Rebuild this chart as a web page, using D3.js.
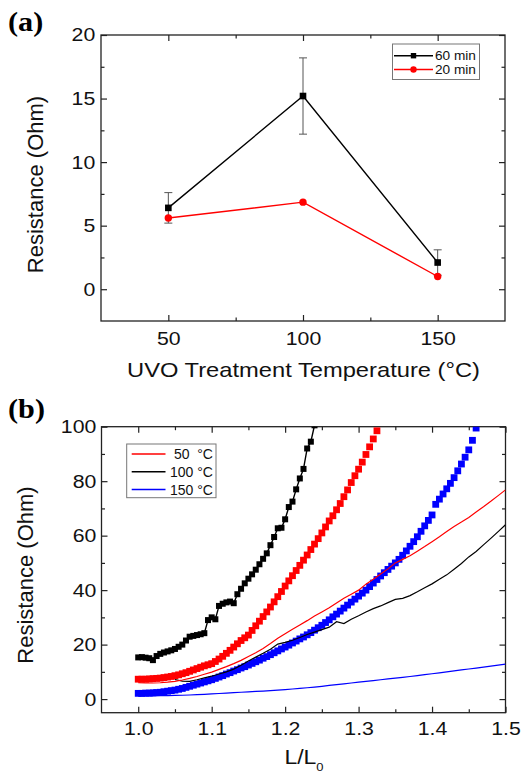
<!DOCTYPE html>
<meta charset="utf-8">
<title>Resistance vs UVO treatment temperature and strain</title>
<style>

body {
  margin: 0;
  background: #fff;
}

svg {
  font-family: "Liberation Sans", Arial, sans-serif;
}

.frame {
  fill: none;
  stroke: #222;
  stroke-width: 1.3px;
}

.axis path {
  display: none;
}

.axis line {
  stroke: #222;
  stroke-width: 1.2px;
}

.axis text {
  fill: #111;
  font-size: 18.5px;
}

.legend-box {
  fill: #fff;
  stroke: #777;
  stroke-width: 1px;
}

.tag {
  font-family: "Liberation Serif", "Times New Roman", serif;
  font-weight: bold;
  font-size: 27px;
}

</style>
<body>
<script src="https://d3js.org/d3.v7.min.js"></script>
<script>

// ---- panel (a) data ----
var treatTemps = [50, 100, 150];
var res60min = [6.4, 15.2, 2.1];
var err60min = [1.2, 3.0, 1.0];
var res20min = [5.6, 6.85, 1.0];

// ---- panel (b) data ----
// strain L/L0, fine sampling for the marker curves
var strainFine = [
  1.000, 1.005, 1.010, 1.015, 1.020, 1.025, 1.030, 1.035, 1.040, 1.045,
  1.050, 1.055, 1.060, 1.065, 1.070, 1.075, 1.080, 1.085, 1.090, 1.095,
  1.100, 1.105, 1.110, 1.115, 1.120, 1.125, 1.130, 1.135, 1.140, 1.145,
  1.150, 1.155, 1.160, 1.165, 1.170, 1.175, 1.180, 1.185, 1.190, 1.195,
  1.200, 1.205, 1.210, 1.215, 1.220, 1.225, 1.230, 1.235, 1.240, 1.245,
  1.250, 1.255, 1.260, 1.265, 1.270, 1.275, 1.280, 1.285, 1.290, 1.295,
  1.300, 1.305, 1.310, 1.315, 1.320, 1.325, 1.330, 1.335, 1.340, 1.345,
  1.350, 1.355, 1.360, 1.365, 1.370, 1.375, 1.380, 1.385, 1.390, 1.395,
  1.400, 1.405, 1.410, 1.415, 1.420, 1.425, 1.430, 1.435, 1.440, 1.445,
  1.450, 1.455, 1.460
];

// strain, coarse sampling for the thin lines
var strainCoarse = [
  1.00, 1.01, 1.02, 1.03, 1.04, 1.05, 1.06, 1.07, 1.08, 1.09,
  1.10, 1.11, 1.12, 1.13, 1.14, 1.15, 1.16, 1.17, 1.18, 1.19,
  1.20, 1.21, 1.22, 1.23, 1.24, 1.25, 1.26, 1.27, 1.28, 1.29,
  1.30, 1.31, 1.32, 1.33, 1.34, 1.35, 1.36, 1.37, 1.38, 1.39,
  1.40, 1.41, 1.42, 1.43, 1.44, 1.45, 1.46, 1.47, 1.48, 1.49,
  1.50
];

// square-marker curves (strainFine[0..n-1])
var sq100 = [
  15.3, 15.4, 15.2, 15.0, 14.3, 15.8, 16.6, 17.1, 17.5, 17.9,
  18.4, 19.2, 20.0, 21.5, 22.9, 23.2, 23.5, 23.8, 24.2, 29.0,
  30.0, 29.3, 34.2, 35.0, 35.5, 35.8, 35.2, 38.5, 40.5, 42.5,
  44.2, 45.8, 47.5, 49.5, 51.5, 53.5, 56.5, 59.5, 62.7, 62.9,
  66.0, 70.5, 72.5, 77.0, 81.0, 84.5, 92.0, 94.5, 100.5
];

var sq50 = [
  7.3, 7.3, 7.3, 7.4, 7.5, 7.6, 7.7, 7.9, 8.1, 8.3,
  8.6, 8.9, 9.3, 9.7, 10.2, 10.7, 11.2, 11.7, 12.2, 12.6,
  13.0, 13.8, 14.7, 15.7, 16.8, 17.9, 19.1, 20.3, 21.5, 22.5,
  23.5, 25.2, 26.9, 28.6, 30.3, 32.0, 33.8, 35.7, 37.6, 39.5,
  41.5, 43.4, 45.3, 47.2, 49.1, 51.0, 52.9, 54.9, 56.9, 58.9,
  61.0, 63.2, 65.4, 67.3, 69.5, 71.8, 74.3, 76.8, 79.5, 82.0,
  84.4, 87.0, 89.8, 92.6, 95.5, 98.5
];

var sq150 = [
  2.1, 2.1, 2.2, 2.2, 2.3, 2.4, 2.5, 2.7, 2.9, 3.1,
  3.3, 3.6, 3.9, 4.3, 4.7, 5.1, 5.5, 5.9, 6.3, 6.7,
  7.1, 7.6, 8.1, 8.6, 9.2, 9.7, 10.3, 10.8, 11.4, 11.9,
  12.5, 13.1, 13.7, 14.3, 15.0, 15.6, 16.3, 17.0, 17.7, 18.4,
  19.1, 19.8, 20.6, 21.3, 22.1, 22.8, 23.6, 24.4, 25.3, 26.2,
  27.1, 28.1, 29.1, 30.2, 31.2, 32.3, 33.4, 34.5, 35.6, 36.7,
  37.8, 38.9, 40.0, 41.3, 42.6, 43.9, 45.2, 46.4, 47.6, 48.8,
  50.0, 51.3, 52.8, 54.4, 56.1, 57.8, 59.6, 61.6, 63.6, 65.6,
  67.6, 71.5, 73.4, 75.3, 77.2, 79.2, 81.3, 83.8, 86.3, 88.8,
  91.5, 95.0, 99.5
];

// thin lines (strainCoarse)
var line50 = [
  6.0, 5.9, 5.9, 6.0, 6.2, 6.5, 7.0, 7.6, 8.3, 9.1,
  9.9, 10.9, 11.9, 13.0, 14.2, 15.6, 17.0, 18.6, 20.4, 22.3,
  24.0, 25.6, 27.2, 28.8, 30.5, 32.0, 33.5, 35.3, 37.0, 38.5,
  40.0, 42.2, 44.0, 45.9, 47.8, 50.0, 51.3, 52.6, 54.3, 56.0,
  57.8, 59.6, 61.5, 63.4, 65.0, 66.7, 68.7, 70.6, 72.6, 74.7,
  76.8
];

// starts at L/L0 = 1.05 (strainCoarse[5..])
var line100 = [
  7.2, 6.6, 6.5, 7.1, 7.8,
  8.4, 9.2, 10.0, 11.0, 12.4, 14.0, 15.4, 16.8, 18.3, 20.2,
  20.8, 21.6, 22.6, 23.7, 24.6, 25.5, 26.4, 28.4, 27.7, 29.3,
  30.6, 32.0, 33.2, 34.2, 35.4, 36.6, 37.0, 38.0, 39.4, 40.9,
  42.3, 44.0, 45.6, 47.7, 49.8, 52.2, 54.2, 56.6, 59.0, 61.5,
  64.0
];

var line150 = [
  1.2, 1.2, 1.2, 1.25, 1.3, 1.35, 1.4, 1.5, 1.6, 1.75,
  1.9, 2.05, 2.2, 2.35, 2.5, 2.65, 2.8, 2.95, 3.1, 3.3,
  3.5, 3.7, 3.9, 4.15, 4.4, 4.7, 5.0, 5.3, 5.6, 5.9,
  6.2, 6.5, 6.8, 7.1, 7.4, 7.7, 8.0, 8.3, 8.6, 8.95,
  9.3, 9.65, 10.0, 10.35, 10.7, 11.05, 11.4, 11.75, 12.1, 12.45,
  12.8
];

var width = 523, height = 773;

var svg = d3.select("body").append("svg")
    .attr("width", width)
    .attr("height", height);

svg.append("rect").attr("width", width).attr("height", height).attr("fill", "#fff");

var xa = d3.scaleLinear().domain([25, 175]).range([101, 505]),
    ya = d3.scaleLinear().domain([-2.5, 20]).range([321, 35]);

var xb = d3.scaleLinear().domain([0.95, 1.5]).range([101.5, 505.5]),
    yb = d3.scaleLinear().domain([-5, 100]).range([712.7, 426.7]);

// boxed frame with inward ticks on all four sides
function frame(x, y, opt) {
  var x0 = x.range()[0], x1 = x.range()[1],
      y0 = y.range()[1], y1 = y.range()[0];
  var g = svg.append("g");

  function put(axis, tx, ty) {
    return g.append("g").attr("class", "axis")
        .attr("transform", "translate(" + tx + "," + ty + ")")
        .call(axis);
  }

  put(d3.axisBottom(x).tickValues(opt.xMinor).tickSize(-3.5).tickFormat(""), 0, y1);
  put(d3.axisTop(x).tickValues(opt.xMinor).tickSize(-3.5).tickFormat(""), 0, y0);
  put(d3.axisLeft(y).tickValues(opt.yMinor).tickSize(-3.5).tickFormat(""), x0, 0);
  put(d3.axisRight(y).tickValues(opt.yMinor).tickSize(-3.5).tickFormat(""), x1, 0);

  put(d3.axisBottom(x).tickValues(opt.xMajor).tickSize(-6).tickPadding(opt.xPad).tickFormat(opt.xFmt), 0, y1)
    .selectAll("text").attr("transform", "scale(1.15,1)");
  put(d3.axisTop(x).tickValues(opt.xMajor).tickSize(-6).tickFormat(""), 0, y0);
  put(d3.axisLeft(y).tickValues(opt.yMajor).tickSize(-6).tickPadding(opt.yPad).tickFormat(opt.yFmt), x0, 0)
    .selectAll("text").attr("transform", "scale(1.15,1)");
  put(d3.axisRight(y).tickValues(opt.yMajor).tickSize(-6).tickFormat(""), x1, 0);

  g.append("rect").attr("class", "frame")
      .attr("x", x0).attr("y", y0)
      .attr("width", x1 - x0).attr("height", y1 - y0);
}

function label(txt, x, y, size, sx, rot) {
  return svg.append("text")
      .attr("transform", "translate(" + x + "," + y + ")" + (rot ? " rotate(" + rot + ")" : "") + " scale(" + sx + ",1)")
      .attr("text-anchor", "middle")
      .attr("font-size", size)
      .attr("fill", "#111")
      .text(txt);
}

// ================= panel (a) =================
frame(xa, ya, {
  xMajor: [50, 100, 150], xMinor: [75, 125],
  yMajor: [0, 5, 10, 15, 20], yMinor: [2.5, 7.5, 12.5, 17.5],
  xFmt: d3.format("d"), yFmt: d3.format("d"), xPad: 11, yPad: 5
});

var lineA = d3.line()
    .x(function(d, i) { return xa(treatTemps[i]); })
    .y(function(d) { return ya(d); });

// error bars for 60 min
var eb = svg.append("g").attr("stroke", "#555").attr("stroke-width", 1);
res60min.forEach(function(v, i) {
  var cx = xa(treatTemps[i]);
  eb.append("line").attr("x1", cx).attr("x2", cx)
      .attr("y1", ya(v - err60min[i])).attr("y2", ya(v + err60min[i]));
  [v - err60min[i], v + err60min[i]].forEach(function(e) {
    eb.append("line").attr("x1", cx - 4).attr("x2", cx + 4)
        .attr("y1", ya(e)).attr("y2", ya(e));
  });
});

svg.append("path").attr("d", lineA(res60min))
    .attr("fill", "none").attr("stroke", "#000").attr("stroke-width", 1.4);
svg.append("path").attr("d", lineA(res20min))
    .attr("fill", "none").attr("stroke", "#ff0000").attr("stroke-width", 1.4);

svg.selectAll(".sq60").data(res60min).enter().append("rect")
    .attr("x", function(d, i) { return xa(treatTemps[i]) - 3.3; })
    .attr("y", function(d) { return ya(d) - 3.3; })
    .attr("width", 6.6).attr("height", 6.6).attr("fill", "#000");
svg.selectAll(".ci20").data(res20min).enter().append("circle")
    .attr("cx", function(d, i) { return xa(treatTemps[i]); })
    .attr("cy", function(d) { return ya(d); })
    .attr("r", 3.7).attr("fill", "#ff0000");

// legend (a)
var legA = svg.append("g");
legA.append("rect").attr("class", "legend-box")
    .attr("x", 392.5).attr("y", 44).attr("width", 87).attr("height", 35.5);
[["60 min", "#000", "square", 55.7], ["20 min", "#ff0000", "circle", 69.5]].forEach(function(e) {
  legA.append("line").attr("x1", 394).attr("x2", 433).attr("y1", e[3]).attr("y2", e[3])
      .attr("stroke", e[1]).attr("stroke-width", 1.4);
  if (e[2] === "square") {
    legA.append("rect").attr("x", 413.5 - 2.7).attr("y", e[3] - 2.7)
        .attr("width", 5.4).attr("height", 5.4).attr("fill", e[1]);
  } else {
    legA.append("circle").attr("cx", 413.5).attr("cy", e[3]).attr("r", 3.2).attr("fill", e[1]);
  }
  legA.append("text").attr("transform", "translate(435," + (e[3] + 4.6) + ") scale(1.05,1)")
      .attr("font-size", 13).attr("fill", "#111").text(e[0]);
});

label("UVO Treatment Temperature (\u00B0C)", 303.5, 376.7, 21, 1.13);
label("Resistance (Ohm)", 43, 184.5, 22, 1, -90);
svg.append("text").attr("class", "tag")
    .attr("transform", "translate(8,31) scale(1.12,1)").text("(a)");

// ================= panel (b) =================
frame(xb, yb, {
  xMajor: [1.0, 1.1, 1.2, 1.3, 1.4, 1.5], xMinor: [1.05, 1.15, 1.25, 1.35, 1.45],
  yMajor: [0, 20, 40, 60, 80, 100], yMinor: [10, 30, 50, 70, 90],
  xFmt: d3.format(".1f"), yFmt: d3.format("d"), xPad: 9, yPad: 4.5
});

svg.append("clipPath").attr("id", "clipB")
  .append("rect")
    .attr("x", xb.range()[0]).attr("y", yb.range()[1])
    .attr("width", xb.range()[1] - xb.range()[0])
    .attr("height", yb.range()[0] - yb.range()[1]);

var plotB = svg.append("g").attr("clip-path", "url(#clipB)");

function pairs(xs, ys) {
  return ys.map(function(v, i) { return [xs[i], v]; });
}

var lineB = d3.line()
    .x(function(d) { return xb(d[0]); })
    .y(function(d) { return yb(d[1]); });

function squares(data, color, size, withLine) {
  if (withLine) {
    plotB.append("path").attr("d", lineB(data))
        .attr("fill", "none").attr("stroke", color).attr("stroke-width", 1.4);
  }
  plotB.append("g").selectAll("rect").data(data).enter().append("rect")
      .attr("x", function(d) { return xb(d[0]) - size / 2; })
      .attr("y", function(d) { return yb(d[1]) - size / 2; })
      .attr("width", size).attr("height", size)
      .attr("fill", color);
}

function thin(data, color) {
  plotB.append("path").attr("d", lineB(data))
      .attr("fill", "none").attr("stroke", color).attr("stroke-width", 1.2);
}

squares(pairs(strainFine, sq150), "#0000ff", 6.8, false);
squares(pairs(strainFine, sq50), "#ff0000", 6.8, false);
squares(pairs(strainFine, sq100), "#000", 6, true);

thin(pairs(strainCoarse, line150), "#0000ff");
thin(pairs(strainCoarse.slice(5), line100), "#000");
thin(pairs(strainCoarse, line50), "#ff0000");

// legend (b)
var legB = svg.append("g");
legB.append("rect").attr("class", "legend-box")
    .attr("x", 126.7).attr("y", 444).attr("width", 89.3).attr("height", 53.7);
[[" 50  \u00B0C", "#ff0000", 454], ["100 \u00B0C", "#000", 471.8], ["150 \u00B0C", "#0000ff", 489.5]].forEach(function(e) {
  legB.append("line").attr("x1", 131.7).attr("x2", 165.5).attr("y1", e[2]).attr("y2", e[2])
      .attr("stroke", e[1]).attr("stroke-width", 1.5);
  legB.append("text").attr("x", 170).attr("y", e[2] + 5)
      .attr("font-size", 14).attr("fill", "#111")
      .style("white-space", "pre").text(e[0]);
});

var xl = svg.append("text")
    .attr("transform", "translate(304,764) scale(1.18,1)")
    .attr("text-anchor", "middle")
    .attr("font-size", 19.5)
    .attr("fill", "#111");
xl.append("tspan").text("L/L");
xl.append("tspan").attr("font-size", 11).attr("dy", 7).text("0");

label("Resistance (Ohm)", 32.5, 575, 22, 1, -90);
svg.append("text").attr("class", "tag")
    .attr("transform", "translate(8,418) scale(1.12,1)").text("(b)");

</script>
